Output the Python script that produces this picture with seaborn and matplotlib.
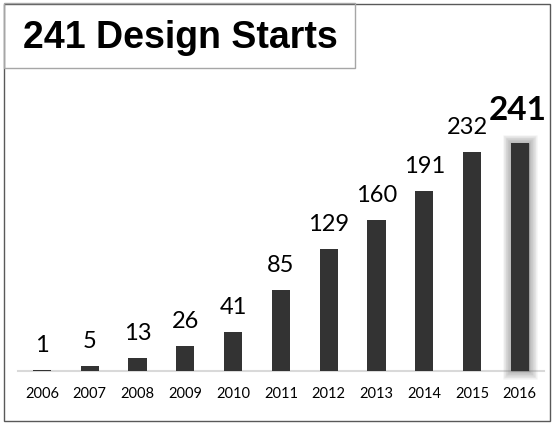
import matplotlib
matplotlib.use("Agg")
import matplotlib.pyplot as plt
import matplotlib.patheffects as pe
from matplotlib.patches import Rectangle
import seaborn as sns
import pandas as pd

years = ["2006", "2007", "2008", "2009", "2010", "2011",
         "2012", "2013", "2014", "2015", "2016"]
starts = [1, 5, 13, 26, 41, 85, 129, 160, 191, 232, 241]
title = "241 Design Starts"

sns.set_theme(style="white")
plt.rcParams["font.family"] = ["Lato", "DejaVu Sans"]

W, H = 552, 424
fig = plt.figure(figsize=(W / 100, H / 100), dpi=100)

# plot area in pixel coordinates (left, right, baseline, top)
px_left, px_right, px_base, px_top = 18.1, 543.7, 370.5, 80
ax = fig.add_axes([px_left / W, (H - px_base) / H,
                   (px_right - px_left) / W, (px_base - px_top) / H])

df = pd.DataFrame({"year": years, "starts": starts})
sns.barplot(data=df, x="year", y="starts", color="#333333", width=0.38,
            saturation=1, linewidth=0, ax=ax, zorder=3)

ax.set_xlim(-0.5, len(years) - 0.5)
ax.set_ylim(0, (px_base - px_top) / 0.942)
ax.set_xlabel("")
ax.set_ylabel("")
ax.set_yticks([])
for s in ["left", "right", "top"]:
    ax.spines[s].set_visible(False)
ax.spines["bottom"].set_color("#d9d9d9")
ax.spines["bottom"].set_linewidth(1.5)
ax.spines["bottom"].set_zorder(1)
ax.tick_params(axis="x", length=0, pad=12, labelsize=10.5, labelcolor="#000000")
ax.patch.set_alpha(0)

# soft glow around the latest year's bar
last = ax.patches[-1]
last.set_clip_on(False)
glow = [pe.Stroke(linewidth=lw, foreground="#808080", alpha=0.06)
        for lw in range(12, 0, -1)]
last.set_path_effects(glow + [pe.Normal()])

# value labels
n = len(starts)
for i, v in enumerate(starts):
    if i == n - 1:
        ax.annotate(str(v), (i, v), xytext=(-1.5, 17), textcoords="offset points",
                    ha="center", va="baseline", fontsize=24, fontweight="bold",
                    color="#000000", annotation_clip=False)
    else:
        dx = -3 if i == n - 2 else 0
        ax.annotate(str(v), (i, v), xytext=(dx, 13), textcoords="offset points",
                    ha="center", va="baseline", fontsize=17, color="#000000",
                    annotation_clip=False)

# outer frame
fig.patches.append(Rectangle((3.5 / W, (H - 421) / H), (549.5 - 3.5) / W, (421 - 3.5) / H,
                             transform=fig.transFigure, fill=False,
                             edgecolor="#595959", linewidth=1.0))
# title box
fig.patches.append(Rectangle((3.5 / W, (H - 68) / H), (354.5 - 3.5) / W, (68 - 3.5) / H,
                             transform=fig.transFigure, fill=False,
                             edgecolor="#a6a6a6", linewidth=1.0))
fig.text(23 / W, (H - 48) / H, title, fontsize=27, fontweight="bold",
         family=["Liberation Sans", "DejaVu Sans"], ha="left", va="baseline",
         color="#000000")

fig.savefig("out.png", dpi=100)
